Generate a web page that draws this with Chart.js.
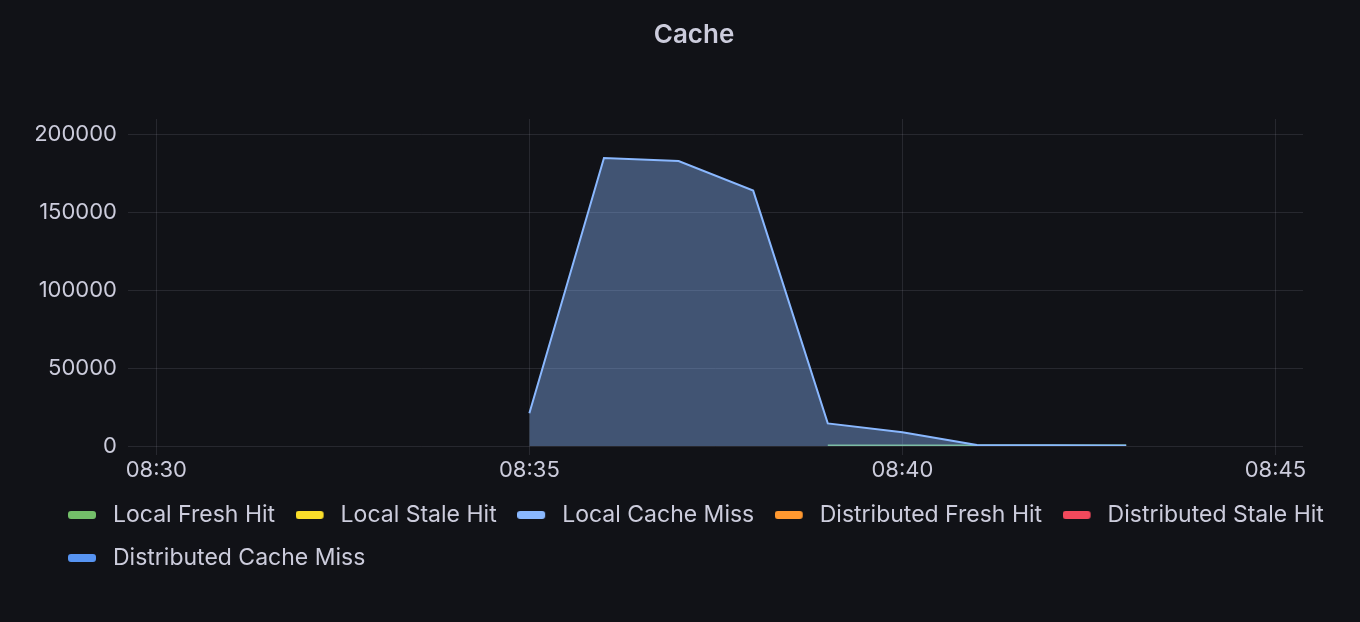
<!DOCTYPE html>
<html>
<head>
<meta charset="utf-8">
<script src="https://cdn.jsdelivr.net/npm/chart.js@4/dist/chart.umd.min.js"></script>
<style>
  html, body { margin: 0; padding: 0; background: #111217; }
  #wrap { width: 1360px; height: 622px; }
</style>
</head>
<body>
<div id="wrap"><canvas id="c" width="1360" height="622"></canvas></div>
<script>
// Time in minutes after 08:30
const minutes = [5, 6, 7, 8, 9, 10, 11, 12, 13];
const xTickValues = [0, 5, 10, 15];
const xTickLabels = ["08:30", "08:35", "08:40", "08:45"];
const yTickValues = [0, 50000, 100000, 150000, 200000];

const seriesNames = ["Local Fresh Hit", "Local Stale Hit", "Local Cache Miss", "Distributed Fresh Hit", "Distributed Stale Hit", "Distributed Cache Miss"];
const seriesColors = ["#73BF69", "#FADE2A", "#8AB8FF", "#FF9830", "#F2495C", "#5794F2"];

const localFreshHit = [null, null, null, null, 300, 300, 300, 300, 300];
const localStaleHit = [];
const localCacheMiss = [21000, 185000, 183000, 164000, 14500, 8800, 600, 500, 400];
const distributedFreshHit = [];
const distributedStaleHit = [];
const distributedCacheMiss = [];

const seriesValues = [localFreshHit, localStaleHit, localCacheMiss, distributedFreshHit, distributedStaleHit, distributedCacheMiss];

function toPoints(vals) {
  const pts = [];
  vals.forEach((v, i) => { if (v !== null && v !== undefined) pts.push({x: minutes[i], y: v}); });
  return pts;
}

// legend marker: 28x8 rounded bar placed at the left of a 33px-wide transparent image
function markerImage(color) {
  const cv = document.createElement('canvas');
  cv.width = 33; cv.height = 8;
  const g = cv.getContext('2d');
  g.fillStyle = color;
  g.beginPath();
  if (g.roundRect) g.roundRect(0, 0, 28, 8, 3); else g.rect(0, 0, 28, 8);
  g.fill();
  return cv;
}

function hexA(hex, a) {
  const n = parseInt(hex.slice(1), 16);
  return `rgba(${(n >> 16) & 255},${(n >> 8) & 255},${n & 255},${a})`;
}

const datasets = seriesNames.map((name, i) => ({
  label: name,
  data: toPoints(seriesValues[i]),
  borderColor: seriesColors[i],
  backgroundColor: hexA(seriesColors[i], 0.4),
  fill: i === 2 ? 'origin' : false,
  borderWidth: 2,
  pointRadius: 0,
  tension: 0,
  order: i === 2 ? 0 : 1,
  yAxisID: 'y',
  pointStyle: markerImage(seriesColors[i])
}));

const textColor = "#ccccdc";
const gridColor = "rgba(204,204,220,0.12)";
const fontFamily = "Inter, 'Noto Sans', sans-serif";

const placeBlocks = {
  id: 'placeBlocks',
  afterLayout(chart) {
    const t = chart.titleBlock;
    if (t) { const d = 694 - (t.left + t.right) / 2; t.left += d; t.right += d; }
    const l = chart.legend;
    if (l) {
      const d = 47.5 - l.left; l.left += d; l.right += d;
      l.top -= 2; l.bottom -= 2;
    }
  }
};

new Chart(document.getElementById('c'), {
  type: 'line',
  data: { datasets },
  plugins: [placeBlocks],
  options: {
    responsive: false,
    animation: false,
    layout: { padding: { left: 36, right: 0, top: 0, bottom: 40.6 } },
    plugins: {
      title: {
        display: true,
        text: "Cache",
        color: textColor,
        font: { family: fontFamily, size: 26, weight: '600' },
        padding: { top: 19.8, bottom: 68 }
      },
      legend: {
        position: 'bottom',
        align: 'start',
        labels: {
          color: textColor,
          font: { family: fontFamily, size: 23 },
          usePointStyle: true,
          pointStyleWidth: 34,
          padding: 20,
          sort: (a, b) => a.datasetIndex - b.datasetIndex
        }
      },
      tooltip: { enabled: false }
    },
    scales: {
      x: {
        type: 'linear',
        min: -0.38,
        max: 15.37,
        afterBuildTicks: (s) => { s.ticks = xTickValues.map(v => ({ value: v })); },
        ticks: {
          color: textColor,
          font: { family: fontFamily, size: 22 },
          padding: 2,
          maxRotation: 0,
          includeBounds: false,
          callback: (v) => { const k = xTickValues.indexOf(v); return k >= 0 ? xTickLabels[k] : ''; }
        },
        grid: { color: gridColor, tickLength: 9, tickColor: gridColor },
        border: { display: false }
      },
      y: {
        position: 'left',
        min: 0,
        max: 210000,
        afterBuildTicks: (s) => { s.ticks = yTickValues.map(v => ({ value: v })); },
        afterFit: (s) => { s.width = 92; },
        ticks: {
          color: textColor,
          font: { family: fontFamily, size: 22 },
          padding: 11,
          includeBounds: false,
          callback: (v) => String(v)
        },
        grid: { color: gridColor, drawTicks: false },
        border: { display: false }
      },
      yRight: {
        position: 'right',
        min: 0,
        max: 210000,
        afterFit: (s) => { s.width = 57; },
        ticks: { display: false },
        grid: { display: false, drawTicks: false },
        border: { display: false }
      }
    }
  }
});
</script>
</body>
</html>
